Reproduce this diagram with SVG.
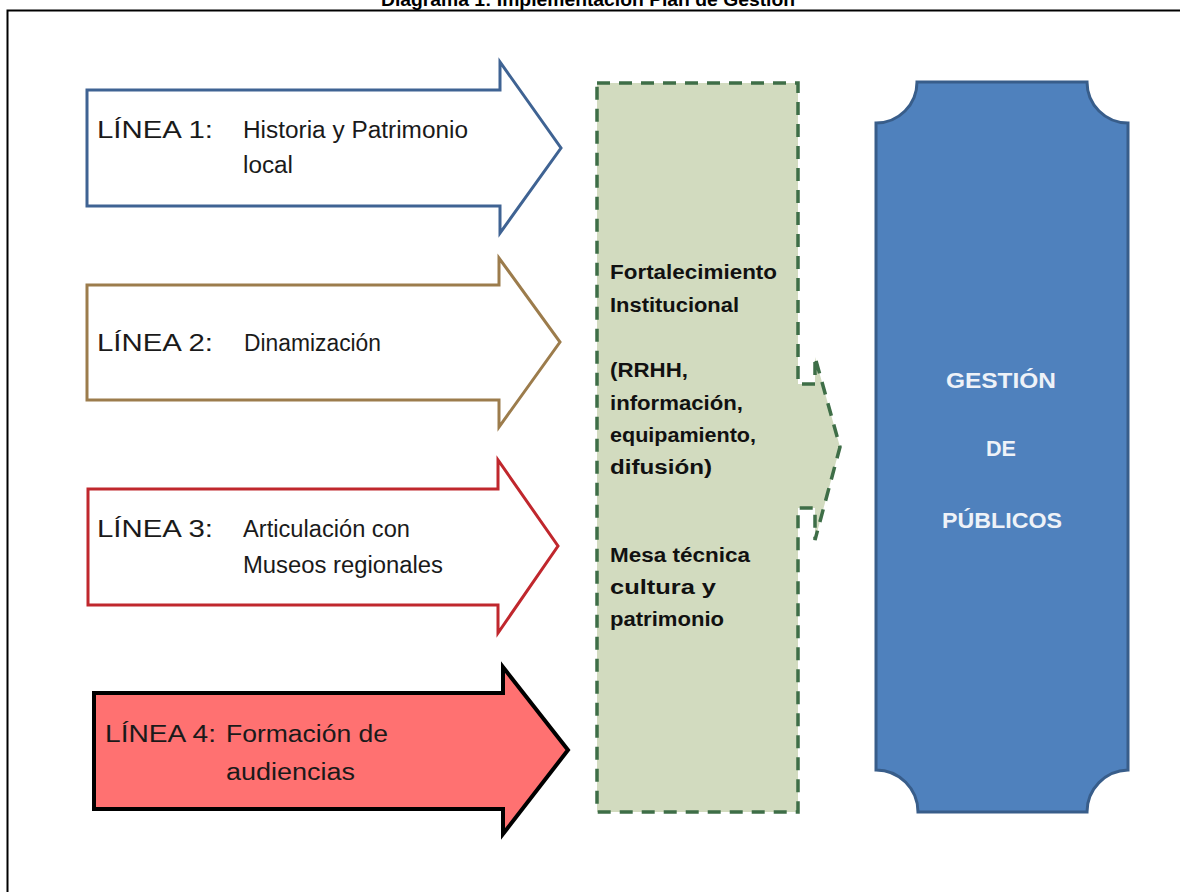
<svg xmlns="http://www.w3.org/2000/svg" width="1180" height="892" viewBox="0 0 1180 892">
<style>
.lbl{font-family:"Liberation Sans",Arial,sans-serif;font-size:23px;fill:#1a1a1a}
.gt{font-family:"Liberation Sans",Arial,sans-serif;font-size:20px;font-weight:bold;fill:#111}
.bt{font-family:"Liberation Sans",Arial,sans-serif;font-size:22px;font-weight:bold;fill:#eef2f8;text-anchor:middle}
.arrow{stroke-width:3;stroke-linejoin:miter}
</style>
<rect x="0" y="0" width="1180" height="892" fill="#ffffff"/>
<text x="588" y="6" text-anchor="middle" font-family="'Liberation Sans',Arial,sans-serif" font-size="18" font-weight="bold" fill="#000" textLength="414" lengthAdjust="spacingAndGlyphs">Diagrama 1: Implementación Plan de Gestión</text>
<rect id="frame" x="7.5" y="10.5" width="1190" height="900" fill="none" stroke="#000" stroke-width="2"/>

<g id="linea1">
<path class="arrow" d="M87,90 H500 V62 L561,148 L500,233 V206 H87 Z" fill="#fff" stroke="#3f6393"/>
<text class="lbl" x="97" y="138" textLength="116" lengthAdjust="spacingAndGlyphs">LÍNEA 1:</text>
<text class="lbl" x="243" y="138" textLength="225" lengthAdjust="spacingAndGlyphs">Historia y Patrimonio</text>
<text class="lbl" x="243" y="173" textLength="50" lengthAdjust="spacingAndGlyphs">local</text>
</g>

<g id="linea2">
<path class="arrow" d="M87,285 H499 V258 L560,342 L499,427 V400 H87 Z" fill="#fff" stroke="#9c7c4c"/>
<text class="lbl" x="97" y="351" textLength="116" lengthAdjust="spacingAndGlyphs">LÍNEA 2:</text>
<text class="lbl" x="244" y="351" textLength="137" lengthAdjust="spacingAndGlyphs">Dinamización</text>
</g>

<g id="linea3">
<path class="arrow" d="M88,489 H498 V460 L558,546 L498,633 V605 H88 Z" fill="#fff" stroke="#c0272d"/>
<text class="lbl" x="97" y="537" textLength="116" lengthAdjust="spacingAndGlyphs">LÍNEA 3:</text>
<text class="lbl" x="243" y="537" textLength="167" lengthAdjust="spacingAndGlyphs">Articulación con</text>
<text class="lbl" x="243" y="573" textLength="200" lengthAdjust="spacingAndGlyphs">Museos regionales</text>
</g>

<g id="linea4">
<path d="M94,693 H503 V667 L568,750 L503,834 V809 H94 Z" fill="#ff7171" stroke="#000" stroke-width="4" stroke-linejoin="miter"/>
<text class="lbl" x="105" y="742" textLength="111" lengthAdjust="spacingAndGlyphs">LÍNEA 4:</text>
<text class="lbl" x="226" y="742" textLength="162" lengthAdjust="spacingAndGlyphs">Formación de</text>
<text class="lbl" x="226" y="780" textLength="129" lengthAdjust="spacingAndGlyphs">audiencias</text>
</g>

<g id="fortalecimiento">
<path d="M597,83 H798 V384 H815 V357 L840,447 L815,540 V508 H798 V812 H597 Z" fill="#d2dbbf" stroke="#3e6e47" stroke-width="3.5" stroke-dasharray="13,9" stroke-linejoin="miter"/>
<text class="gt" x="610" y="279" textLength="167" lengthAdjust="spacingAndGlyphs">Fortalecimiento</text>
<text class="gt" x="610" y="312" textLength="129" lengthAdjust="spacingAndGlyphs">Institucional</text>
<text class="gt" x="610" y="377" textLength="78" lengthAdjust="spacingAndGlyphs">(RRHH,</text>
<text class="gt" x="610" y="410" textLength="133" lengthAdjust="spacingAndGlyphs">información,</text>
<text class="gt" x="610" y="442" textLength="146" lengthAdjust="spacingAndGlyphs">equipamiento,</text>
<text class="gt" x="610" y="474" textLength="102" lengthAdjust="spacingAndGlyphs">difusión)</text>
<text class="gt" x="610" y="562" textLength="140" lengthAdjust="spacingAndGlyphs">Mesa técnica</text>
<text class="gt" x="610" y="594" textLength="106" lengthAdjust="spacingAndGlyphs">cultura  y</text>
<text class="gt" x="610" y="626" textLength="114" lengthAdjust="spacingAndGlyphs">patrimonio</text>
</g>

<g id="gestion">
<path d="M917,82 H1087 A41,41 0 0 0 1128,123 V770 A42,42 0 0 0 1087,812 H918 A42,42 0 0 0 876,770 V123 A41,41 0 0 0 917,82 Z" fill="#4f81bd" stroke="#385d8a" stroke-width="3"/>
<text class="bt" x="1001" y="388" textLength="110" lengthAdjust="spacingAndGlyphs">GESTIÓN</text>
<text class="bt" x="1001" y="456" textLength="30" lengthAdjust="spacingAndGlyphs">DE</text>
<text class="bt" x="1002" y="528" textLength="120" lengthAdjust="spacingAndGlyphs">PÚBLICOS</text>
</g>

<g id="connectors"></g>
</svg>
